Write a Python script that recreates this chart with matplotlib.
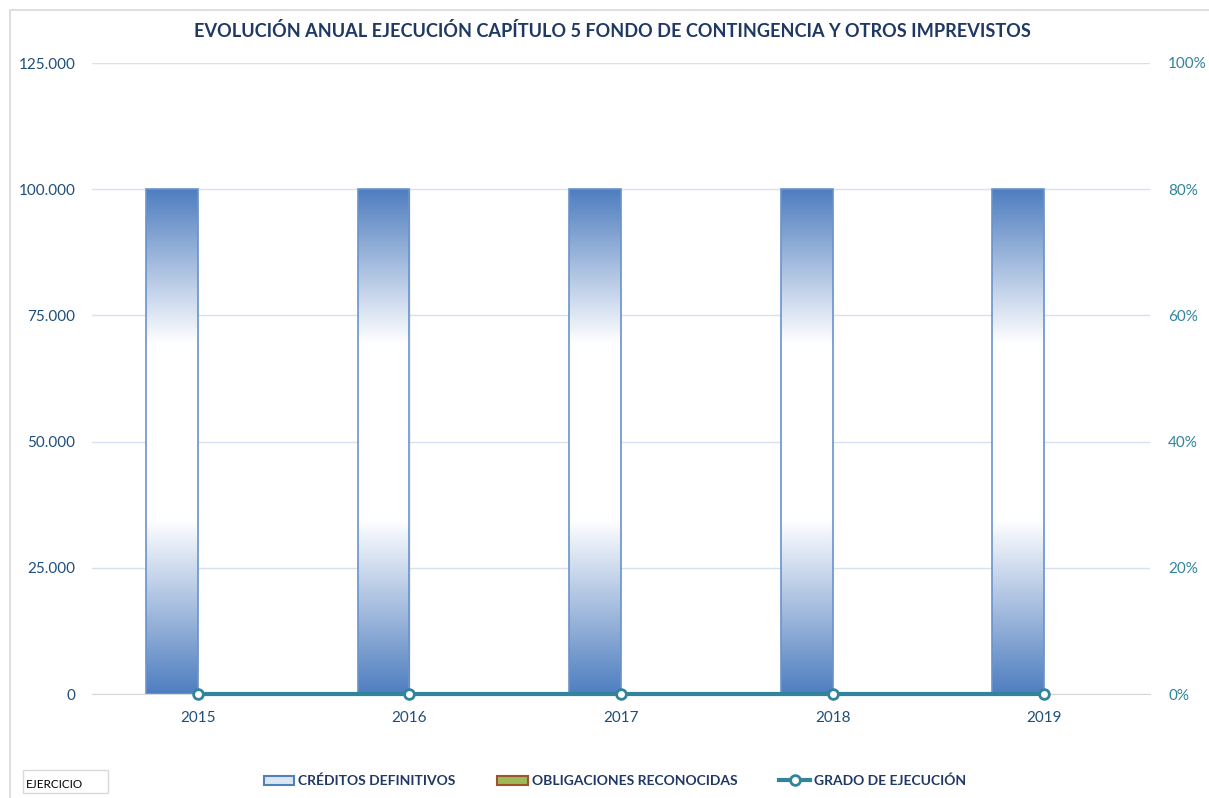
import matplotlib
matplotlib.use("Agg")
import matplotlib.pyplot as plt
import numpy as np
from matplotlib.colors import LinearSegmentedColormap
from matplotlib.patches import Rectangle, Patch
from matplotlib.lines import Line2D
from matplotlib.ticker import FuncFormatter, PercentFormatter

years = ["2015", "2016", "2017", "2018", "2019"]
creditos = [100000, 100000, 100000, 100000, 100000]
obligaciones = [0, 0, 0, 0, 0]
grado = [0.0, 0.0, 0.0, 0.0, 0.0]

title = "EVOLUCIÓN ANUAL EJECUCIÓN CAPÍTULO 5 FONDO DE CONTINGENCIA Y OTROS IMPREVISTOS"
navy = "#1F3864"
left_col = "#1F4E79"
teal = "#31849B"
grid_col = "#D6E0EF"

plt.rcParams['font.family'] = ['Lato', 'DejaVu Sans']

fig = plt.figure(figsize=(12.09, 7.98), dpi=100)
ax = fig.add_axes([92/1209, 1-694/798, (1150-92)/1209, (694-63)/798])
ax2 = ax.twinx()

x = np.arange(len(years))
w = 0.245
cmap = LinearSegmentedColormap.from_list("g", [
    (0.0, "#4F7EC0"), (0.345, "#FFFFFF"), (0.695, "#FFFFFF"), (1.0, "#4F7EC0")])
grad = np.linspace(0, 1, 256).reshape(-1, 1)

bars = ax.bar(x - w/2, creditos, width=w, facecolor="none", edgecolor="#6A93CB",
              linewidth=1.2, zorder=3)
for b in bars:
    bx, by = b.get_x(), b.get_y()
    bw, bh = b.get_width(), b.get_height()
    # shadow
    ax.add_patch(Rectangle((bx + 0.006, by), bw, bh, facecolor="#000000", alpha=0.06,
                           edgecolor="none", zorder=2))
    im = ax.imshow(grad, cmap=cmap, aspect="auto", origin="lower",
                   extent=(bx, bx + bw, by, by + bh), zorder=2.5, interpolation="bilinear")
    im.set_clip_path(b)
ax.bar(x + w/2, obligaciones, width=w, color="#9BBB59", linewidth=0, zorder=3)

ax.set_xlim(-0.5, len(years) - 0.5)
ax.set_ylim(0, 125000)
ax.set_yticks(np.arange(0, 125001, 25000))
ax.yaxis.set_major_formatter(FuncFormatter(lambda v, p: f"{int(v):,}".replace(",", ".")))
ax.set_xticks(x)
ax.set_xticklabels(years)
ax.grid(axis="y", color=grid_col, linewidth=1)
ax.set_axisbelow(True)
for s in ax.spines.values():
    s.set_visible(False)
ax.spines["bottom"].set_visible(True)
ax.spines["bottom"].set_color("#D9D9D9")
ax.tick_params(axis="x", length=0, labelsize=11, colors=left_col, pad=12)
ax.tick_params(axis="y", length=0, labelsize=11, colors=left_col, pad=12)

ax2.plot(x, grado, color=teal, linewidth=3, marker="o", markersize=7,
         markerfacecolor="white", markeredgecolor=teal, markeredgewidth=2,
         zorder=5, clip_on=False)
ax2.set_ylim(0, 1.0)
ax2.set_yticks(np.arange(0, 1.01, 0.2))
ax2.yaxis.set_major_formatter(PercentFormatter(1.0, decimals=0))
for s in ax2.spines.values():
    s.set_visible(False)
ax2.tick_params(axis="y", length=0, labelsize=11, colors=teal, pad=13)
ax.set_zorder(1)
ax2.set_zorder(2)
ax2.patch.set_visible(False)

fig.text(612/1209, 1-31/798, title, ha="center", va="center", fontsize=13.05,
         fontweight="bold", color=navy)

# chart border
fig.add_artist(Rectangle((10/1209, -0.01), 1.1, 1 - 10/798 + 0.01,
                         transform=fig.transFigure, facecolor="none",
                         edgecolor="#D9D9D9", linewidth=1.2))
# EJERCICIO box
fig.add_artist(Rectangle((23/1209, 1-793/798), 85/1209, 23/798,
                         transform=fig.transFigure, facecolor="white",
                         edgecolor="#D9D9D9", linewidth=1))
fig.text(26/1209, 1-785/798, "EJERCICIO", ha="left", va="center", fontsize=8.5,
         color="black")

handles = [
    Patch(facecolor="#DCE6F2", edgecolor="#4F81BD", linewidth=1.5),
    Patch(facecolor="#9BBB59", edgecolor="#A0522D", linewidth=1.5),
    Line2D([0], [0], color=teal, linewidth=3, marker="o", markersize=7,
           markerfacecolor="white", markeredgecolor=teal, markeredgewidth=2),
]
labels = ["CRÉDITOS DEFINITIVOS", "OBLIGACIONES RECONOCIDAS", "GRADO DE EJECUCIÓN"]
leg = fig.legend(handles, labels, loc="center", bbox_to_anchor=(615/1209, 1-781/798),
                 ncol=3, frameon=False, handlelength=2.2, handletextpad=0.3,
                 columnspacing=3.0, prop={"weight": "bold", "size": 10})
for t in leg.get_texts():
    t.set_color(navy)

fig.savefig("out.png", dpi=100)
